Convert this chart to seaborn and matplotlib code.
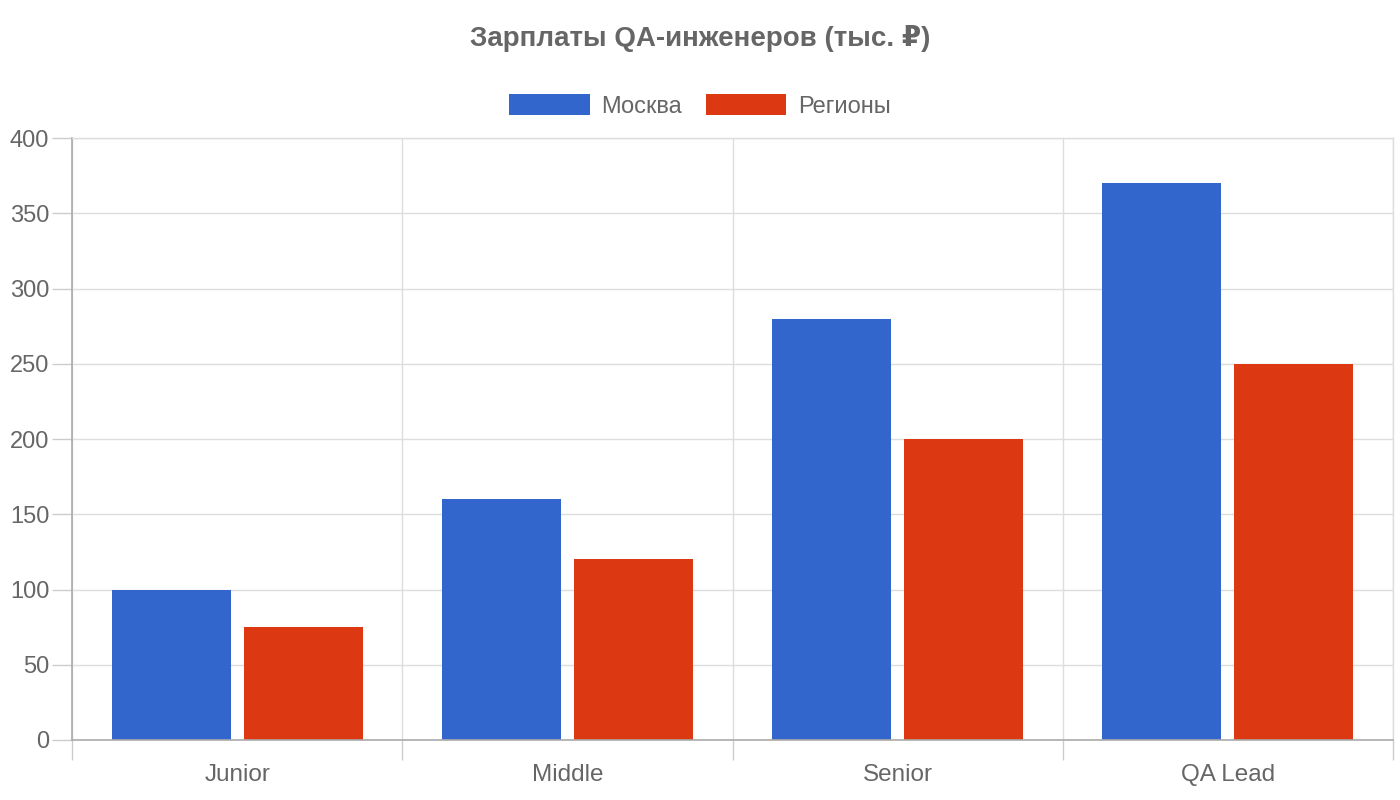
import matplotlib
matplotlib.use("Agg")
import matplotlib.pyplot as plt
import seaborn as sns
import pandas as pd
from matplotlib.patches import Patch
from matplotlib.ticker import FixedLocator

categories = ["Junior", "Middle", "Senior", "QA Lead"]
moscow = [100, 160, 280, 370]
regions = [75, 120, 200, 250]
series_names = ["Москва", "Регионы"]
colors = ["#3366CC", "#DC3912"]
title = "Зарплаты QA-инженеров (тыс. ₽)"

df = pd.DataFrame({
    "cat": categories * 2,
    "val": moscow + regions,
    "series": [series_names[0]] * 4 + [series_names[1]] * 4,
})

sns.set_theme(style="white")
plt.rcParams['font.family'] = ['Liberation Sans', 'DejaVu Sans']

fig = plt.figure(figsize=(14, 8), dpi=100)
ax = fig.add_axes([72 / 1400, 1 - 740 / 800, (1393 - 72) / 1400, (740 - 138) / 800])

sns.barplot(data=df, x="cat", y="val", hue="series", palette=colors,
            width=0.8, gap=0.1, ax=ax, legend=False, saturation=1,
            edgecolor="none")

ax.set_xlim(-0.5, 3.5)
ax.set_ylim(0, 400)
ax.set_yticks(range(0, 401, 50))
ax.set_xlabel("")
ax.set_ylabel("")

grid_c = "#dddddd"
ax.yaxis.grid(True, color=grid_c, linewidth=1)
ax.xaxis.set_minor_locator(FixedLocator([-0.5, 0.5, 1.5, 2.5, 3.5]))
ax.xaxis.grid(True, which="minor", color=grid_c, linewidth=1)
ax.xaxis.grid(False, which="major")
ax.set_axisbelow(True)

ax.tick_params(axis="x", which="major", bottom=True, length=0, pad=17,
               labelsize=17.5, labelcolor="#666666")
ax.tick_params(axis="x", which="minor", bottom=True, length=14.4, width=1, color="#cccccc")
ax.tick_params(axis="y", left=True, length=14.4, width=1, color="#cccccc", pad=2,
               labelsize=17, labelcolor="#666666")

for s in ["left", "bottom"]:
    ax.spines[s].set_color("#aaaaaa")
    ax.spines[s].set_linewidth(1.2)
for s in ["top", "right"]:
    ax.spines[s].set_color(grid_c)
    ax.spines[s].set_linewidth(1)

fig.text(0.5, 1 - 38 / 800, title, ha="center", va="center",
         fontsize=20, fontweight="bold", color="#666666")

handles = [Patch(facecolor=c, edgecolor="none", label=n) for c, n in zip(colors, series_names)]
fig.legend(handles=handles, loc="center", bbox_to_anchor=(0.5, 1 - 106 / 800),
           ncol=2, frameon=False, fontsize=17, labelcolor="#666666",
           handlelength=3.4, handleheight=1.0, handletextpad=0.5, columnspacing=1.0)

fig.savefig("out.png", dpi=100)
